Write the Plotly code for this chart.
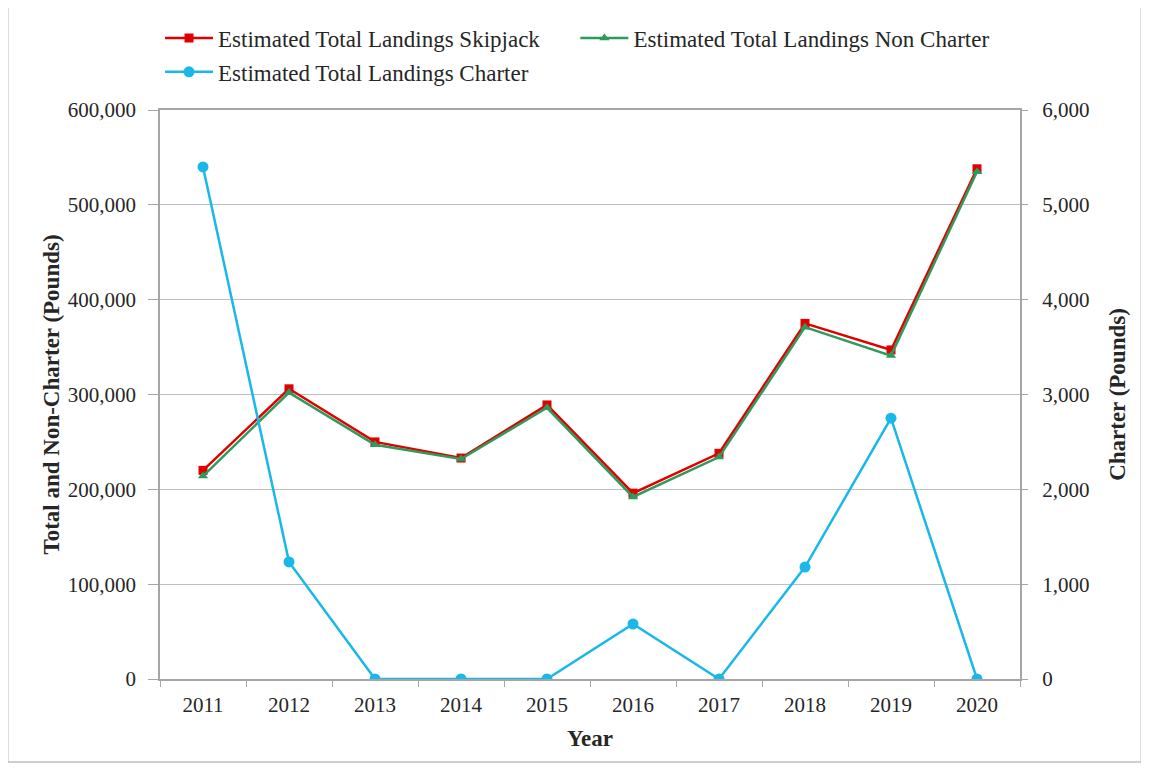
import plotly.graph_objects as go

years = ["2011", "2012", "2013", "2014", "2015", "2016", "2017", "2018", "2019", "2020"]
skipjack = [220000, 306000, 250000, 233000, 289000, 196000, 238000, 375000, 347000, 538000]
non_charter = [214000, 302000, 247000, 232000, 286000, 192000, 234000, 371000, 341000, 535000]
charter = [5400, 1235, 0, 0, 0, 580, 0, 1180, 2750, 0]

FONT = "Liberation Serif, Times New Roman, serif"
TXT = "#262626"
RED = "#E00000"
GREEN = "#2E9A5C"
CYAN = "#19B8E8"

fig = go.Figure()
fig.add_trace(go.Scatter(
    x=years, y=skipjack, name="Estimated Total Landings Skipjack",
    mode="lines+markers", line=dict(color=RED, width=2.5),
    marker=dict(symbol="square", size=9, color=RED), legend="legend",
))
fig.add_trace(go.Scatter(
    x=years, y=non_charter, name="Estimated Total Landings Non Charter",
    mode="lines+markers", line=dict(color=GREEN, width=2.5),
    marker=dict(symbol="triangle-up", size=9, color=GREEN), legend="legend3",
))
fig.add_trace(go.Scatter(
    x=years, y=charter, name="Estimated Total Landings Charter", yaxis="y2",
    mode="lines+markers", line=dict(color=CYAN, width=2.5),
    marker=dict(symbol="circle", size=11, color=CYAN), legend="legend2",
))

legend_common = dict(
    orientation="h", xanchor="left", yanchor="middle",
    xref="container", yref="container",
    font=dict(family=FONT, size=23, color=TXT),
    itemwidth=48, bgcolor="rgba(0,0,0,0)",
)

fig.update_layout(
    width=1149, height=769,
    margin=dict(l=152, r=137, t=102, b=98, autoexpand=False),
    paper_bgcolor="white", plot_bgcolor="white",
    font=dict(family=FONT, size=20, color=TXT),
    showlegend=True,
    legend=dict(x=0.1323, y=0.961, **legend_common),
    legend3=dict(x=0.4938, y=0.961, **legend_common),
    legend2=dict(x=0.1323, y=0.917, **legend_common),
    xaxis=dict(
        type="category", range=[-0.5, 9.5],
        showline=True, linecolor="#A6A6A6", linewidth=1.5, mirror=True,
        ticks="outside", tickson="boundaries", ticklen=6, tickcolor="#A6A6A6",
        ticklabelstandoff=6,
        showgrid=False,
        title=dict(text="<b>Year</b>", font=dict(family=FONT, size=23), standoff=14),
        tickfont=dict(family=FONT, size=21),
    ),
    yaxis=dict(
        range=[0, 600000], dtick=100000, tickformat=",d",
        showline=True, linecolor="#A6A6A6", linewidth=1.5, mirror=True,
        ticks="outside", ticklen=10, tickcolor="#A6A6A6",
        ticklabelstandoff=8,
        showgrid=True, gridcolor="#BFBFBF", gridwidth=1.2,
        zeroline=False,
        title=dict(text="<b>Total and Non-Charter (Pounds)</b>", font=dict(family=FONT, size=23), standoff=2),
        tickfont=dict(family=FONT, size=21),
    ),
    yaxis2=dict(
        overlaying="y", side="right",
        range=[0, 6000], dtick=1000, tickformat=",d",
        showline=False, ticks="outside", ticklen=7, tickcolor="#A6A6A6",
        ticklabelstandoff=10,
        showgrid=False, zeroline=False,
        title=dict(text="<b>Charter (Pounds)</b>", font=dict(family=FONT, size=23), standoff=20),
        tickfont=dict(family=FONT, size=21),
    ),
    shapes=[dict(
        type="rect", xref="paper", yref="paper",
        x0=-0.177, x1=1.141, y0=-0.146, y1=1.188,
        line=dict(color="#BFBFBF", width=1.5), fillcolor="rgba(0,0,0,0)", layer="below",
    )],
)

fig.write_html("out.html")
